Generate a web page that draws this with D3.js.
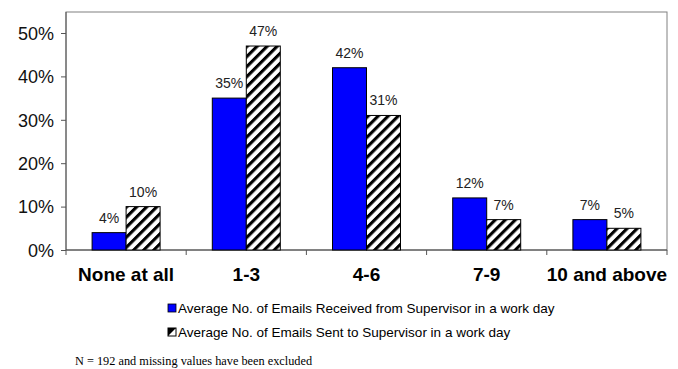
<!DOCTYPE html>
<html><head><meta charset="utf-8">
<script src="https://cdn.jsdelivr.net/npm/d3@7"></script>
<style>body{margin:0;background:#fff;}svg{display:block;}</style>
</head><body>
<svg id="c" width="678" height="369"></svg>
<script>
const categories = ["None at all", "1-3", "4-6", "7-9", "10 and above"];
const received = [4, 35, 42, 12, 7];
const sent = [10, 47, 31, 7, 5];
const seriesNames = ["Average No. of Emails Received from Supervisor in a work day",
                     "Average No. of Emails Sent to Supervisor in a work day"];
const yTicks = [0, 10, 20, 30, 40, 50];
const footnote = "N = 192 and missing values have been excluded";

const svg = d3.select("#c");
const defs = svg.append("defs");
const P = 7.1;
const pat = defs.append("pattern").attr("id", "hatch").attr("patternUnits", "userSpaceOnUse")
  .attr("width", P).attr("height", P).attr("patternTransform", "rotate(45)");
pat.append("rect").attr("width", P).attr("height", P).attr("fill", "#fff");
pat.append("rect").attr("x", 0).attr("y", 0).attr("width", 3.1).attr("height", P).attr("fill", "#000");

const L = 66, R = 667, T = 12, B = 250;
const x = d3.scaleBand().domain(categories).range([L, R]).paddingInner(0).paddingOuter(0);
const y = d3.scaleLinear().domain([0, 50]).range([B, 33]);
const barW = 34;
const SANS = "Arial, 'Liberation Sans', sans-serif";

// frame
svg.append("rect").attr("x", L).attr("y", T).attr("width", R - L).attr("height", B - T)
  .attr("fill", "none").attr("stroke", "#808080").attr("stroke-width", 1);

// y axis
const yAxis = svg.append("g").attr("transform", `translate(${L},0)`)
  .call(d3.axisLeft(y).tickValues(yTicks).tickFormat(d => d + "%").tickSize(5).tickSizeOuter(0));
yAxis.select(".domain").remove();
svg.append("line").attr("x1", L).attr("x2", L).attr("y1", T).attr("y2", B).attr("stroke", "#555");
yAxis.selectAll(".tick line").attr("stroke", "#555");
yAxis.selectAll(".tick text").attr("font-family", SANS)
  .attr("font-size", 18).attr("fill", "#111").attr("x", -12).attr("dy", "0.35em");

// x axis
const xAxis = svg.append("g").attr("transform", `translate(0,${B})`)
  .call(d3.axisBottom(x).tickSize(0).tickSizeOuter(0));
xAxis.select(".domain").remove();
svg.append("line").attr("x1", L).attr("x2", R).attr("y1", B).attr("y2", B).attr("stroke", "#444");
const bounds = categories.map(c => x(c)).concat([R]);
svg.selectAll(".xt").data(bounds).enter().append("line")
  .attr("x1", d => d).attr("x2", d => d).attr("y1", B).attr("y2", B + 5).attr("stroke", "#555");
xAxis.selectAll(".tick text").attr("font-family", SANS)
  .attr("font-size", 19).attr("font-weight", "bold").attr("fill", "#000").attr("y", 31).attr("dy", null);

// bars
const g = svg.append("g");
categories.forEach((c, i) => {
  const cx = x(c) + x.bandwidth() / 2;
  const data = [{v: received[i], x0: cx - barW, fill: "#0000ff"}, {v: sent[i], x0: cx, fill: "url(#hatch)"}];
  data.forEach(d => {
    g.append("rect").attr("x", d.x0).attr("y", y(d.v)).attr("width", barW).attr("height", B - y(d.v))
      .attr("fill", d.fill).attr("stroke", "#000").attr("stroke-width", 1);
    g.append("text").attr("x", d.x0 + barW / 2).attr("y", y(d.v) - 10)
      .attr("text-anchor", "middle").attr("font-family", SANS)
      .attr("font-size", 14).attr("fill", "#222").text(d.v + "%");
  });
});

// legend
const lg = svg.append("g");
const lx = 168, ly = [308, 332];
lg.append("rect").attr("x", lx).attr("y", ly[0] - 4).attr("width", 8).attr("height", 8)
  .attr("fill", "#0000ff").attr("stroke", "#000").attr("stroke-width", 0.8);
lg.append("rect").attr("x", lx).attr("y", ly[1] - 4).attr("width", 8).attr("height", 8)
  .attr("fill", "#fff").attr("stroke", "#000").attr("stroke-width", 1);
lg.append("path").attr("d", `M${lx},${ly[1]+4}L${lx},${ly[1]-4}L${lx+8},${ly[1]-4}Z`).attr("fill", "#000");
seriesNames.forEach((s, i) => {
  lg.append("text").attr("x", 178).attr("y", ly[i]).attr("dy", "0.35em")
    .attr("font-family", SANS).attr("font-size", 13.5).attr("fill", "#000").text(s);
});

svg.append("text").attr("x", 75).attr("y", 365).attr("font-family", "'Times New Roman', 'Liberation Serif', serif")
  .attr("font-size", 12.3).attr("fill", "#000").text(footnote);
</script>
</body></html>
